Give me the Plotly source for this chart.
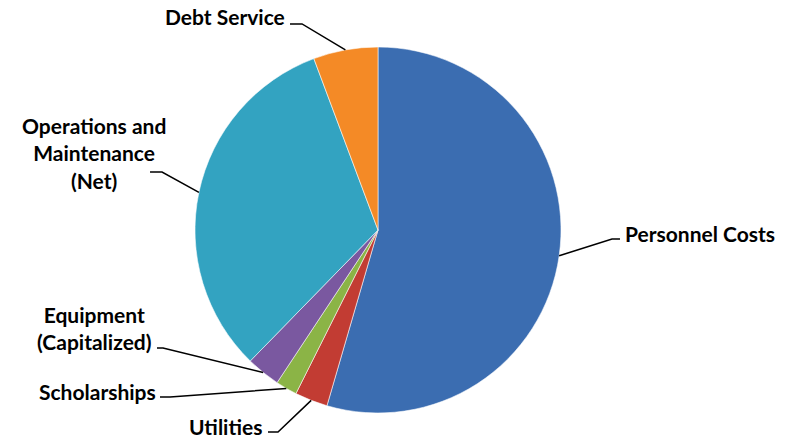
import math
import plotly.graph_objects as go

# Budget shares (percent of total), listed clockwise from 12 o'clock
categories = ["Personnel Costs", "Utilities", "Scholarships",
              "Equipment (Capitalized)", "Operations and Maintenance (Net)", "Debt Service"]
shares = [54.5, 2.9, 1.9, 3.0, 32.0, 5.7]
label_text = ["Personnel Costs", "Utilities", "Scholarships",
              "Equipment<br>(Capitalized)", "Operations and<br>Maintenance<br>(Net)", "Debt Service"]
colors = ["#3b6db1", "#c23c33", "#8bb446", "#7a58a0", "#33a3c1", "#f48a26"]

W, H = 790, 440
cx, cy, r = 378, 230, 183  # pie centre / radius in pixels

fig = go.Figure(go.Pie(
    labels=categories, values=shares, sort=False, direction="clockwise", rotation=0,
    marker=dict(colors=colors, line=dict(color="rgba(255,255,255,0.55)", width=1)),
    textinfo="none", hoverinfo="label+percent", showlegend=False,
    domain=dict(x=[(cx - r) / W, (cx + r) / W], y=[1 - (cy + r) / H, 1 - (cy - r) / H]),
))

# Label placement: (text x, text y, anchor, elbow x, elbow y, line end x)
placement = {
    "Personnel Costs": (624, 233, "left", 612, 239, 620),
    "Utilities": (225, 426, "center", 278, 432, 268),
    "Scholarships": (97, 391, "center", 170, 397, 160),
    "Equipment (Capitalized)": (94, 328, "center", 163, 348, 157),
    "Operations and Maintenance (Net)": (94, 153, "center", 162, 172, 150),
    "Debt Service": (225, 17, "center", 302, 24, 290),
}

total = sum(shares)
cum = 0.0
for name, val, txt in zip(categories, shares, label_text):
    mid = (cum + val / 2) / total * 2 * math.pi
    cum += val
    rim_x = cx + r * math.sin(mid)
    rim_y = cy - r * math.cos(mid)
    tx, ty, anchor, ex, ey, lx = placement[name]
    path = "M {:.4f} {:.4f} L {:.4f} {:.4f} L {:.4f} {:.4f}".format(
        rim_x / W, 1 - rim_y / H, ex / W, 1 - ey / H, lx / W, 1 - ey / H)
    fig.add_shape(type="path", path=path, xref="paper", yref="paper",
                  line=dict(color="black", width=1.5))
    fig.add_annotation(x=tx / W, y=1 - ty / H, xref="paper", yref="paper",
                       text="<b>" + txt + "</b>", showarrow=False,
                       xanchor=anchor, yanchor="middle", align="center", borderpad=0,
                       font=dict(family="Lato", size=21, color="black"))

fig.update_layout(width=W, height=H, margin=dict(l=0, r=0, t=0, b=0),
                  paper_bgcolor="white", plot_bgcolor="white")
fig.write_html("out.html")
